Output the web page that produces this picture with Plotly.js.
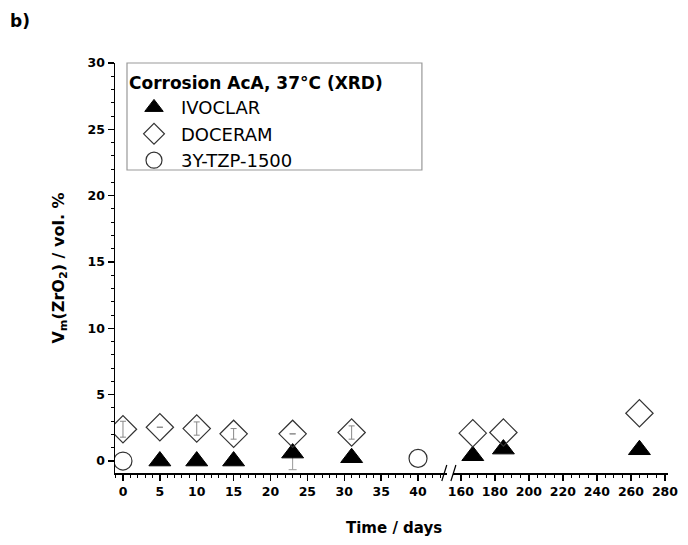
<!DOCTYPE html>
<html>
<head>
<meta charset="utf-8">
<script src="https://cdn.plot.ly/plotly-3.0.1.min.js"></script>
<style>body{margin:0;padding:0;background:#fff;} #chart{width:688px;height:545px;}</style>
</head>
<body>
<div id="chart"></div>
<script>
// Data
const ivoDaysShort = [5, 10, 15, 23, 31];
const ivoValsShort = [0.0, 0.0, 0.0, 0.6, 0.25];
const ivoDaysLong = [167, 185, 265];
const ivoValsLong = [0.4, 0.9, 0.85];

const docDaysShort = [0, 5, 10, 15, 23, 31];
const docValsShort = [2.4, 2.55, 2.45, 2.05, 2.05, 2.15];
const docErrShort = [0.6, 0, 0.5, 0.4, 0, 0.5];
const docDaysLong = [167, 185, 265];
const docValsLong = [2.1, 2.15, 3.6];

const tzpDays = [0, 40];
const tzpVals = [0.0, 0.2];

const shortTicks = [0, 5, 10, 15, 20, 25, 30, 35, 40];
const longTicks = [160, 180, 200, 220, 240, 260, 280];
const yTicks = [0, 5, 10, 15, 20, 25, 30];

const FONT = '"DejaVu Sans", Arial, sans-serif';
const triMarker = {symbol: 'triangle-up', size: 19, color: '#000', line: {color: '#000', width: 1}};
const diaMarker = {symbol: 'diamond-open', size: 21, color: '#333', line: {color: '#333', width: 1.2}};
const cirMarker = {symbol: 'circle-open', size: 18, color: '#333', line: {color: '#333', width: 1.2}};

const traces = [
  {x: ivoDaysShort, y: ivoValsShort, xaxis: 'x', yaxis: 'y', mode: 'markers', name: 'IVOCLAR', marker: triMarker,
   error_y: {type: 'data', symmetric: false, array: [0,0,0,0,0], arrayminus: [0,0,0,1.25,0], color: '#999', thickness: 1, width: 4}},
  {x: ivoDaysLong, y: ivoValsLong, xaxis: 'x2', yaxis: 'y', mode: 'markers', name: 'IVOCLAR', marker: triMarker, showlegend: false},
  {x: docDaysShort, y: docValsShort, xaxis: 'x', yaxis: 'y', mode: 'markers', name: 'DOCERAM', marker: diaMarker,
   error_y: {type: 'data', array: docErrShort, color: '#888', thickness: 1, width: 3}},
  {x: docDaysLong, y: docValsLong, xaxis: 'x2', yaxis: 'y', mode: 'markers', name: 'DOCERAM', marker: diaMarker, showlegend: false},
  {x: tzpDays, y: tzpVals, xaxis: 'x', yaxis: 'y', mode: 'markers', name: '3Y-TZP-1500', marker: cirMarker}
];

const axBase = {
  showline: true, linecolor: '#000', linewidth: 1.5, mirror: false,
  ticks: 'outside', ticklen: 6, tickwidth: 1.3, tickcolor: '#000',
  showgrid: false, zeroline: false,
  tickfont: {family: FONT, size: 12.5, color: '#000', weight: 'bold'},
  minor: {ticks: 'outside', ticklen: 3, tickwidth: 1, tickcolor: '#000', showgrid: false}
};

const layout = {
  width: 688, height: 545,
  margin: {l: 115, r: 20, t: 63, b: 72},
  paper_bgcolor: '#fff', plot_bgcolor: '#fff',
  font: {family: FONT, color: '#000'},
  showlegend: true,
  xaxis: Object.assign({}, axBase, {
    domain: [0, 0.6], range: [-1.08, 43.9], tickmode: 'array', tickvals: shortTicks,
    minor: Object.assign({}, axBase.minor, {dtick: 1, tick0: 0}), anchor: 'y'
  }),
  xaxis2: Object.assign({}, axBase, {
    domain: [0.611, 1], range: [155.3, 281.8], tickmode: 'array', tickvals: longTicks,
    minor: Object.assign({}, axBase.minor, {dtick: 5, tick0: 0}), anchor: 'y'
  }),
  yaxis: Object.assign({}, axBase, {
    range: [-0.9, 30], tickmode: 'array', tickvals: yTicks, anchor: 'x',
    minor: Object.assign({}, axBase.minor, {dtick: 1, tick0: 0}),
    title: {text: 'V<sub>m</sub>(ZrO<sub>2</sub>) / vol. %', font: {family: FONT, size: 16, weight: 'bold'}, standoff: 19}
  }),
  legend: {
    x: 0.0217, y: 0.99, xanchor: 'left', yanchor: 'top',
    bgcolor: 'rgba(0,0,0,0)', borderwidth: 0,
    font: {family: FONT, size: 18, color: '#000'},
    title: {text: 'Corrosion AcA, 37°C (XRD)', font: {family: FONT, size: 17, weight: 'bold', color: '#000'}},
    tracegroupgap: 0, itemwidth: 44
  },
  annotations: [
    {text: 'Time / days', xref: 'paper', yref: 'paper', x: 0.505, y: 0, yshift: -55, showarrow: false,
     xanchor: 'center', yanchor: 'middle', font: {family: FONT, size: 15, weight: 'bold', color: '#000'}},
    {text: 'b)', xref: 'paper', yref: 'paper', x: 0, y: 1, xshift: -107, yshift: 42, showarrow: false,
     xanchor: 'left', yanchor: 'middle', font: {family: FONT, size: 17, weight: 'bold', color: '#000'}}
  ],
  shapes: [
    {type: 'rect', xref: 'paper', yref: 'paper', x0: 0.0217, x1: 0.555, y0: 0.739, y1: 1.0,
     fillcolor: '#fff', line: {color: '#999', width: 1.2}, layer: 'below'},
    {type: 'line', xref: 'paper', yref: 'paper', xsizemode: 'pixel', ysizemode: 'pixel',
     xanchor: 0.6, yanchor: 0, x0: -5, x1: 0, y0: -8, y1: 8, line: {color: '#000', width: 1.2}},
    {type: 'line', xref: 'paper', yref: 'paper', xsizemode: 'pixel', ysizemode: 'pixel',
     xanchor: 0.611, yanchor: 0, x0: -2, x1: 3, y0: -8, y1: 8, line: {color: '#000', width: 1.2}}
  ]
};

Plotly.newPlot('chart', traces, layout, {staticPlot: true, displayModeBar: false});
</script>
</body>
</html>
